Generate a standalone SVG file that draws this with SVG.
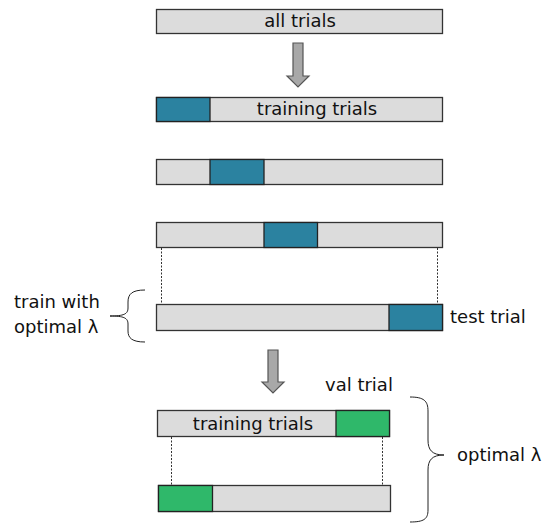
<svg xmlns="http://www.w3.org/2000/svg" width="544" height="523" viewBox="0 0 544 523">
<style>
.bar{fill:#dcdcdc;stroke:#333;stroke-width:1.3}
.teal{fill:#2b82a0;stroke:#222;stroke-width:1.3}
.green{fill:#2fb86a;stroke:#222;stroke-width:1.3}
.arrow{fill:#a8a8a8;stroke:#555;stroke-width:1.2}
.dot{stroke:#333;stroke-width:1;stroke-dasharray:2,1.5;fill:none}
.brace{fill:none;stroke:#222;stroke-width:1}
text{font-family:"DejaVu Sans",sans-serif;font-size:18px;fill:#111}
</style>
<rect width="544" height="523" fill="#fff"/>
<g id="all">
<rect class="bar" x="156.5" y="9.5" width="286" height="24"/>
<text x="300" y="27" text-anchor="middle">all trials</text>
</g>
<g id="arrow1">
<path class="arrow" d="M293,43 H303 V76 H309 L298,87 L287,76 H293 Z"/>
</g>
<g id="fold1">
<rect class="bar" x="156.5" y="97.5" width="286" height="24"/>
<rect class="teal" x="156.5" y="97.5" width="53.5" height="24"/>
<text x="317" y="115" text-anchor="middle">training trials</text>
</g>
<g id="fold2">
<rect class="bar" x="156.5" y="159.5" width="286" height="25"/>
<rect class="teal" x="210" y="159.5" width="54" height="25"/>
</g>
<g id="fold3">
<rect class="bar" x="156.5" y="222.5" width="286" height="25"/>
<rect class="teal" x="264" y="222.5" width="53.5" height="25"/>
</g>
<g id="connectors">
<line class="dot" x1="161.5" y1="248" x2="161.5" y2="304"/>
<line class="dot" x1="437.5" y1="248" x2="437.5" y2="304"/>
<line class="dot" x1="171.5" y1="437" x2="171.5" y2="486"/>
<line class="dot" x1="382.5" y1="437" x2="382.5" y2="486"/>
</g>
<g id="test">
<rect class="bar" x="156.5" y="304.5" width="286" height="26"/>
<rect class="teal" x="389" y="304.5" width="53.5" height="26"/>
<text x="450" y="323">test trial</text>
</g>
<g id="leftbrace">
<path class="brace" d="M145,290 C132,290 128,294 128,302 V308 C128,314 124,316 110,316 C124,316 128,318 128,324 V331 C128,338 132,342 145,342"/>
<text x="14" y="308">train with</text>
<text x="14" y="333">optimal λ</text>
</g>
<g id="arrow2">
<path class="arrow" d="M268,350 H278 V382 H284 L273,393 L262,382 H268 Z"/>
</g>
<g id="val">
<rect class="bar" x="157.5" y="410.5" width="232" height="26"/>
<rect class="green" x="336" y="410.5" width="53.5" height="26"/>
<text x="253" y="430" text-anchor="middle">training trials</text>
<text x="325" y="391">val trial</text>
</g>
<g id="val2">
<rect class="bar" x="158.5" y="485.5" width="232" height="26"/>
<rect class="green" x="158.5" y="485.5" width="54" height="26"/>
</g>
<g id="rightbrace">
<path class="brace" d="M410,397 C424,397 428,401 428,411 V440 C428,450 432,455 444,455 C432,455 428,460 428,470 V510 C428,519 424,522 410,522"/>
<text x="457" y="461">optimal λ</text>
</g>
</svg>
